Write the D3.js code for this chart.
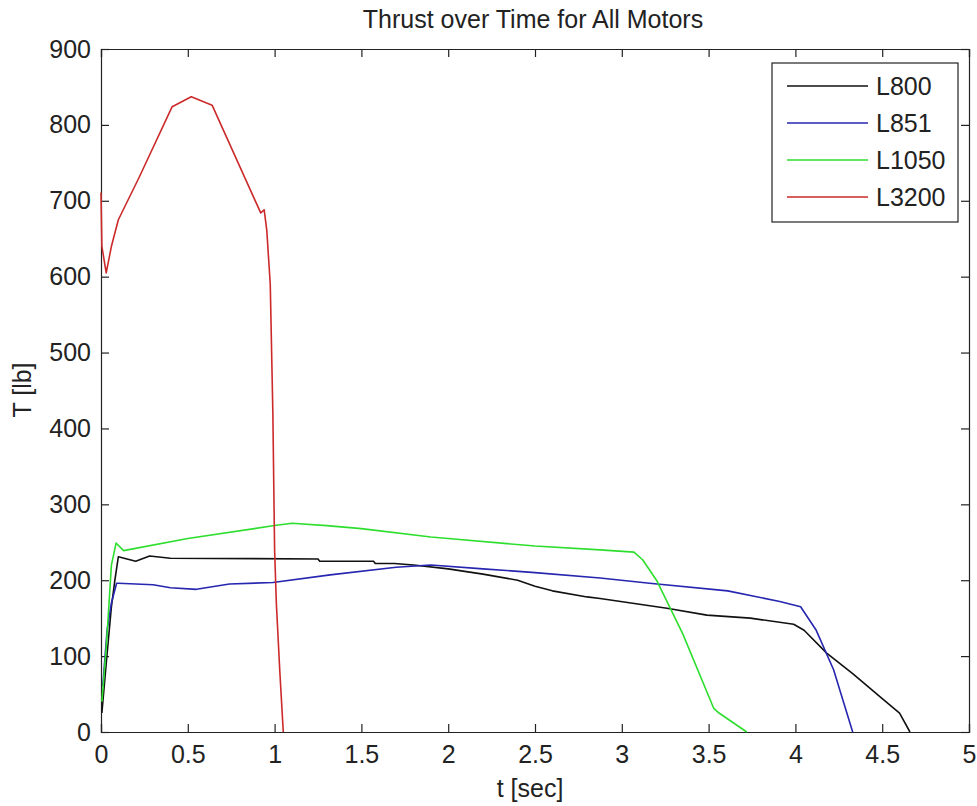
<!DOCTYPE html>
<html>
<head>
<meta charset="utf-8">
<script src="https://cdn.jsdelivr.net/npm/d3@7"></script>
<style>
  body { margin: 0; background: #fff; }
  text { font-family: "Liberation Sans", Arial, sans-serif; fill: #222; }
</style>
</head>
<body>
<svg id="chart" width="977" height="806"></svg>
<script>
// motor names, in legend order
var motors = ["L800", "L851", "L1050", "L3200"];

// thrust curves: time [sec] and thrust [lb]
var l800Time   = [0.005, 0.03, 0.06, 0.08, 0.1, 0.2, 0.28, 0.4, 1.25, 1.26, 1.57, 1.58, 1.69, 1.8, 2.0, 2.2, 2.4, 2.5, 2.6, 2.8, 2.875, 3.26, 3.49, 3.74, 3.99, 4.05, 4.18, 4.33, 4.49, 4.6, 4.66];
var l800Thrust = [25, 90, 165, 200, 231, 225, 232, 229, 228, 225, 225, 222, 222, 220, 215, 208, 200, 192, 186, 178, 176, 163, 154, 150, 142, 134, 104, 77, 46, 25, 0];

var l851Time   = [0.01, 0.035, 0.06, 0.09, 0.1, 0.3, 0.4, 0.55, 0.74, 0.99, 1.32, 1.7, 1.9, 2.2, 2.5, 2.875, 3.16, 3.61, 3.91, 4.03, 4.12, 4.22, 4.33];
var l851Thrust = [60, 134, 170, 196, 196, 194, 190, 188, 195, 197, 207, 217, 220, 215, 210, 203, 196, 186, 172, 165, 134, 82, 0];

var l1050Time   = [0.005, 0.03, 0.06, 0.087, 0.13, 0.5, 1.0, 1.1, 1.3, 1.5, 1.9, 2.0, 2.5, 2.875, 3.07, 3.12, 3.2, 3.35, 3.53, 3.56, 3.72];
var l1050Thrust = [40, 110, 220, 249, 239, 255, 272, 275, 272, 268, 257, 255, 245, 240, 237, 227, 200, 130, 31, 25, 0];

var l3200Time   = [0, 0.005, 0.03, 0.06, 0.1, 0.22, 0.41, 0.52, 0.64, 0.92, 0.94, 0.955, 0.975, 0.99, 1.0, 1.01, 1.03, 1.05];
var l3200Thrust = [711, 640, 605, 640, 675, 731, 824, 837, 826, 684, 688, 661, 590, 420, 240, 170, 80, 0];

var xTicks = [0, 0.5, 1, 1.5, 2, 2.5, 3, 3.5, 4, 4.5, 5];
var yTicks = [0, 100, 200, 300, 400, 500, 600, 700, 800, 900];

var colors = ["#111111", "#2626b0", "#2ede2e", "#cc2a2a"];
var series = [
  {name: motors[0], t: l800Time,  v: l800Thrust},
  {name: motors[1], t: l851Time,  v: l851Thrust},
  {name: motors[2], t: l1050Time, v: l1050Thrust},
  {name: motors[3], t: l3200Time, v: l3200Thrust}
];

var svg = d3.select("#chart");
var plotLeft = 101, plotRight = 969, plotTop = 49, plotBottom = 732;
var fontSize = 25;

var x = d3.scaleLinear().domain([0, 5]).range([plotLeft, plotRight]);
var y = d3.scaleLinear().domain([0, 900]).range([plotBottom, plotTop]);

// axes, ticks pointing inwards, mirrored on top and right
var fmt = function (d) { return String(d); };
var gx = svg.append("g").attr("transform", "translate(0," + plotBottom + ")")
    .call(d3.axisBottom(x).tickValues(xTicks).tickFormat(fmt).tickSize(-8).tickPadding(13));
var gy = svg.append("g").attr("transform", "translate(" + plotLeft + ",0)")
    .call(d3.axisLeft(y).tickValues(yTicks).tickFormat(fmt).tickSize(-8).tickPadding(10));
var gxt = svg.append("g").attr("transform", "translate(0," + plotTop + ")")
    .call(d3.axisTop(x).tickValues(xTicks).tickFormat("").tickSize(-8));
var gyr = svg.append("g").attr("transform", "translate(" + plotRight + ",0)")
    .call(d3.axisRight(y).tickValues(yTicks).tickFormat("").tickSize(-8));

[gx, gy, gxt, gyr].forEach(function (g) {
  g.select(".domain").attr("stroke", "#222").attr("stroke-width", 1.2);
  g.selectAll(".tick line").attr("stroke", "#222").attr("stroke-width", 1.2);
  g.selectAll(".tick text").style("font-size", fontSize + "px").attr("fill", "#222")
    .style("font-family", "'Liberation Sans', Arial, sans-serif");
});

// curves
var line = d3.line()
    .x(function (d) { return x(d[0]); })
    .y(function (d) { return y(d[1]); });

series.forEach(function (s, i) {
  var pts = s.t.map(function (t, j) { return [t, s.v[j]]; });
  svg.append("path")
      .datum(pts)
      .attr("fill", "none")
      .attr("stroke", colors[i])
      .attr("stroke-width", 1.6)
      .attr("stroke-linejoin", "round")
      .attr("d", line);
});

// title and axis labels
svg.append("text").attr("x", 533).attr("y", 28).attr("text-anchor", "middle")
    .style("font-size", fontSize + "px").text("Thrust over Time for All Motors");
svg.append("text").attr("x", 530).attr("y", 797).attr("text-anchor", "middle")
    .style("font-size", fontSize + "px").text("t [sec]");
svg.append("text").attr("transform", "translate(31,390) rotate(-90)").attr("text-anchor", "middle")
    .style("font-size", fontSize + "px").text("T [lb]");

// legend
var legend = svg.append("g");
legend.append("rect").attr("x", 772).attr("y", 63).attr("width", 186).attr("height", 159)
    .attr("fill", "#fff").attr("stroke", "#222").attr("stroke-width", 1.2);
series.forEach(function (s, i) {
  var ry = 86 + i * 37;
  legend.append("line").attr("x1", 787).attr("x2", 868).attr("y1", ry).attr("y2", ry)
      .attr("stroke", colors[i]).attr("stroke-width", 1.6);
  legend.append("text").attr("x", 876).attr("y", ry + 9)
      .style("font-size", fontSize + "px").text(s.name);
});
</script>
</body>
</html>
